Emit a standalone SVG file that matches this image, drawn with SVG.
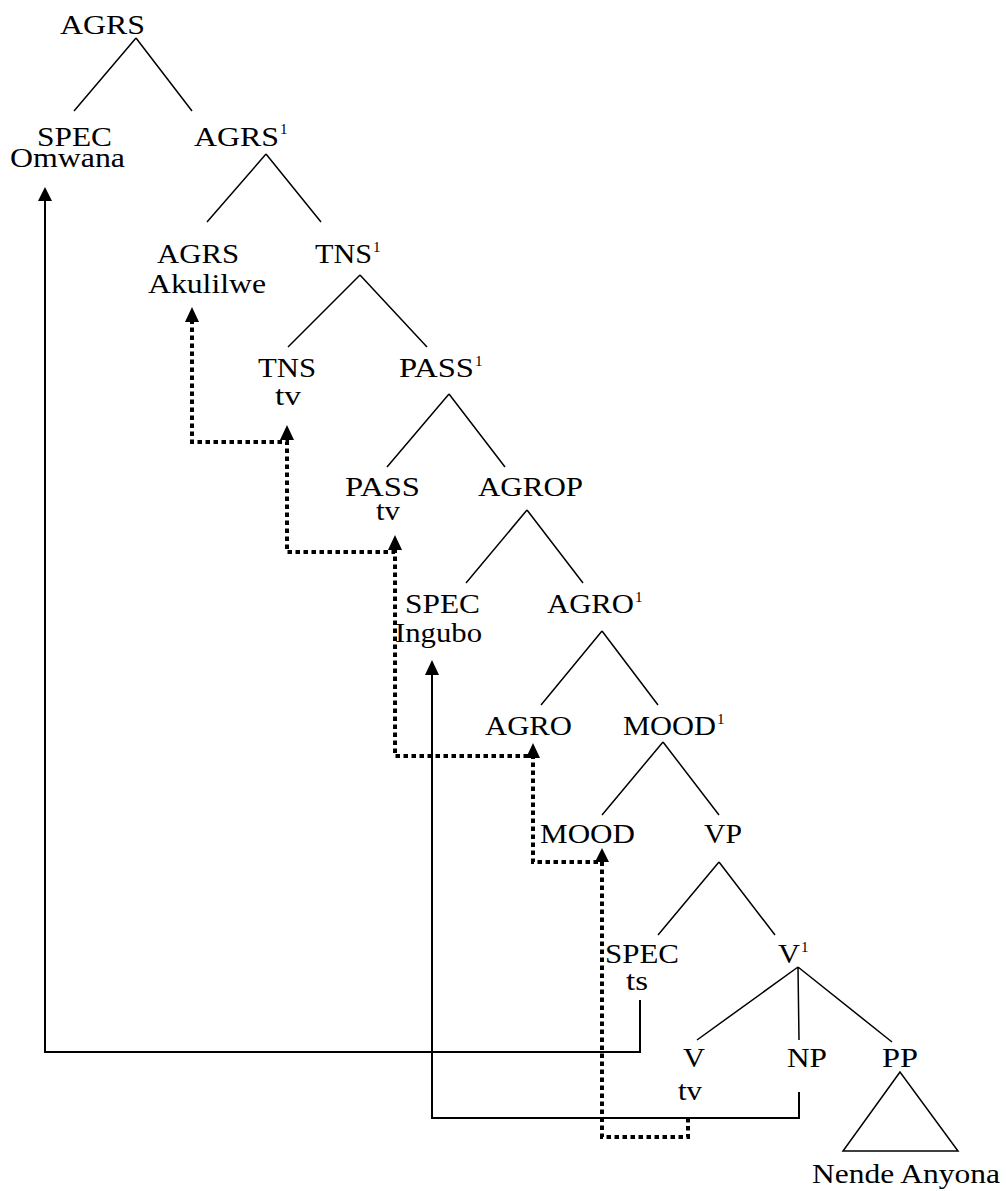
<svg xmlns="http://www.w3.org/2000/svg" width="1006" height="1191" viewBox="0 0 1006 1191">
<style>
text{font-family:"Liberation Serif","Times New Roman",serif;font-size:28px;fill:#000}
.m{text-anchor:middle}
.sup{font-size:15px}
.tree{stroke:#000;stroke-width:1.5;fill:none}
.solid{stroke:#000;stroke-width:2;fill:none}
.dot{stroke:#000;stroke-width:4;fill:none;stroke-dasharray:4.5 3.5}
.ah{fill:#000}
</style>
<rect width="1006" height="1191" fill="#fff"/>
<g id="connectors">
<g class="tree">
<path d="M136,38L74,111M136,38L192,111"/>
<path d="M266,154L207,222M266,154L321,222"/>
<path d="M360,275L288,347M360,275L427,347"/>
<path d="M449,394L387,467M449,394L505,467"/>
<path d="M527,510L466,583M527,510L583,583"/>
<path d="M602,631L541,705M602,631L658,705"/>
<path d="M663,742L602,815M663,742L719,815"/>
<path d="M719,862L658,935M719,862L775,935"/>
<path d="M798,967L697,1040M798,967L799,1040M798,967L892,1042"/>
<path d="M900,1072L843,1151L958,1151Z"/>
</g>
<path class="solid" d="M640,1000V1052H45V198"/>
<path class="solid" d="M799,1092V1118H432V672"/>
<path class="dot" d="M688,1118V1137H602V862H533V756H395V552H287V442H192V320"/>
<g class="ah">
<polygon points="45,187 38,201 52,201"/>
<polygon points="432,660 425,675 439,675"/>
<polygon points="602,848 595,862 609,862"/>
<polygon points="533,743 526,758 540,758"/>
<polygon points="395,535 388,550 402,550"/>
<polygon points="287,425 280,440 294,440"/>
<polygon points="192,307 185,322 199,322"/>
</g>
</g>
<g id="n-agrs-top"><text x="60" y="34" textLength="85" lengthAdjust="spacingAndGlyphs">AGRS</text></g>
<g id="n-spec-omwana"><text x="37" y="146" textLength="75" lengthAdjust="spacingAndGlyphs">SPEC</text><text x="10" y="167" textLength="115" lengthAdjust="spacingAndGlyphs">Omwana</text></g>
<g id="n-agrs1"><text x="194" y="146" textLength="85" lengthAdjust="spacingAndGlyphs">AGRS</text><text class="sup" x="280" y="134">1</text></g>
<g id="n-agrs-akulilwe"><text x="157" y="263" textLength="82" lengthAdjust="spacingAndGlyphs">AGRS</text><text x="148" y="293" textLength="118" lengthAdjust="spacingAndGlyphs">Akulilwe</text></g>
<g id="n-tns1"><text x="315" y="263" textLength="57" lengthAdjust="spacingAndGlyphs">TNS</text><text class="sup" x="373" y="252">1</text></g>
<g id="n-tns-tv"><text x="258" y="377" textLength="58" lengthAdjust="spacingAndGlyphs">TNS</text><text class="m" x="288" y="405" textLength="26" lengthAdjust="spacingAndGlyphs">tv</text></g>
<g id="n-pass1"><text x="399" y="377" textLength="75" lengthAdjust="spacingAndGlyphs">PASS</text><text class="sup" x="475" y="366">1</text></g>
<g id="n-pass-tv"><text x="345" y="496" textLength="75" lengthAdjust="spacingAndGlyphs">PASS</text><text class="m" x="388" y="520" textLength="24" lengthAdjust="spacingAndGlyphs">tv</text></g>
<g id="n-agrop"><text x="478" y="496" textLength="105" lengthAdjust="spacingAndGlyphs">AGROP</text></g>
<g id="n-spec-ingubo"><text x="405" y="613" textLength="75" lengthAdjust="spacingAndGlyphs">SPEC</text><text x="395" y="642" textLength="87" lengthAdjust="spacingAndGlyphs">Ingubo</text></g>
<g id="n-agro1"><text x="547" y="613" textLength="87" lengthAdjust="spacingAndGlyphs">AGRO</text><text class="sup" x="635" y="602">1</text></g>
<g id="n-agro"><text x="485" y="735" textLength="87" lengthAdjust="spacingAndGlyphs">AGRO</text></g>
<g id="n-mood1"><text x="623" y="735" textLength="93" lengthAdjust="spacingAndGlyphs">MOOD</text><text class="sup" x="717" y="724">1</text></g>
<g id="n-mood"><text x="540" y="843" textLength="95" lengthAdjust="spacingAndGlyphs">MOOD</text></g>
<g id="n-vp"><text x="704" y="843" textLength="38" lengthAdjust="spacingAndGlyphs">VP</text></g>
<g id="n-spec-ts"><text x="605" y="963" textLength="74" lengthAdjust="spacingAndGlyphs">SPEC</text><text class="m" x="637" y="990" textLength="22" lengthAdjust="spacingAndGlyphs">ts</text></g>
<g id="n-v1"><text x="778" y="963" textLength="22" lengthAdjust="spacingAndGlyphs">V</text><text class="sup" x="801" y="952">1</text></g>
<g id="n-v"><text class="m" x="694" y="1067" textLength="22" lengthAdjust="spacingAndGlyphs">V</text><text class="m" x="690" y="1100" textLength="24" lengthAdjust="spacingAndGlyphs">tv</text></g>
<g id="n-np"><text class="m" x="807" y="1067" textLength="40" lengthAdjust="spacingAndGlyphs">NP</text></g>
<g id="n-pp"><text class="m" x="900" y="1067" textLength="36" lengthAdjust="spacingAndGlyphs">PP</text><text x="812" y="1183" textLength="188" lengthAdjust="spacingAndGlyphs">Nende Anyona</text></g>
</svg>
